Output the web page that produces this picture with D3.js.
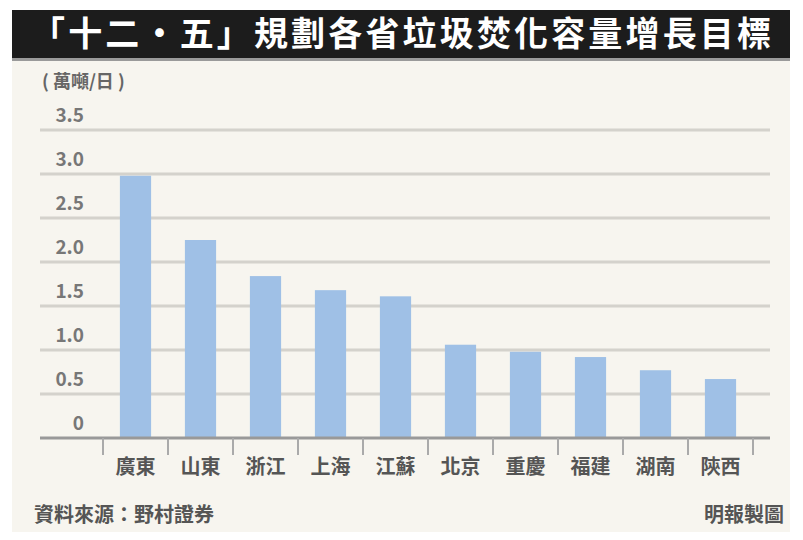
<!DOCTYPE html>
<html><head><meta charset="utf-8">
<script src="https://cdn.jsdelivr.net/npm/d3@7"></script>
<style>body{margin:0;background:#fff;}svg{display:block;font-family:"Noto Sans CJK TC","Noto Sans",sans-serif;}</style>
</head><body><div></div>
<script>
const width = 803, height = 540;
const provinces = ["廣東","山東","浙江","上海","江蘇","北京","重慶","福建","湖南","陝西"];
const values = [2.98, 2.25, 1.84, 1.68, 1.61, 1.06, 0.98, 0.92, 0.77, 0.67];
const yTicks = [0, 0.5, 1.0, 1.5, 2.0, 2.5, 3.0, 3.5];
const tickLabels = ["0","0.5","1.0","1.5","2.0","2.5","3.0","3.5"];

const svg = d3.select("div").append("svg").attr("width", width).attr("height", height);

svg.append("rect").attr("x", 12).attr("y", 58).attr("width", 778).attr("height", 474).attr("fill", "#f7f5ef");
svg.append("rect").attr("x", 12).attr("y", 10).attr("width", 778).attr("height", 50).attr("fill", "#1c1c1c");
svg.append("rect").attr("x", 12).attr("y", 58).attr("width", 778).attr("height", 3).attr("fill", "#9a9a9a");
svg.append("text").text("「十二・五」規劃各省垃圾焚化容量增長目標")
  .attr("x", 401).attr("y", 46).attr("text-anchor", "middle")
  .attr("fill", "#fff").attr("font-size", 34).attr("font-weight", "bold").attr("textLength", 740);

const x = d3.scaleBand().domain(provinces).range([103, 753]).paddingInner(0.52).paddingOuter(0.26);
const y = d3.scaleLinear().domain([0, 3.5]).range([438, 130]);

const grid = svg.append("g");
yTicks.slice(1).forEach((t) => {
  grid.append("line").attr("x1", 40).attr("x2", 770).attr("y1", y(t)).attr("y2", y(t))
    .attr("stroke", "#d4d2cc").attr("stroke-width", 3);
});
yTicks.forEach((t, i) => {
  svg.append("text").text(tickLabels[i]).attr("x", 84).attr("y", y(t) - 8)
    .attr("text-anchor", "end").attr("fill", "#777").attr("font-size", 19).attr("font-weight", "bold");
});
svg.append("text").text("( 萬噸/日 )").attr("x", 42).attr("y", 88).attr("fill", "#666")
  .attr("font-size", 18).attr("font-weight", "bold");

svg.selectAll(".bar").data(values).enter().append("rect").attr("class", "bar")
  .attr("x", (d, i) => x(provinces[i])).attr("width", x.bandwidth())
  .attr("y", (d) => y(d)).attr("height", (d) => y(0) - y(d)).attr("fill", "#9fc0e6");

svg.append("line").attr("x1", 40).attr("x2", 770).attr("y1", 438).attr("y2", 438)
  .attr("stroke", "#999").attr("stroke-width", 3);

const step = x.step();
provinces.forEach((p, i) => {
  const sx = x(p) - (step - x.bandwidth()) / 2;
  svg.append("line").attr("x1", sx).attr("x2", sx).attr("y1", 438).attr("y2", 455).attr("stroke", "#aaa").attr("stroke-width", 2);
  svg.append("text").text(p).attr("x", x(p) + x.bandwidth() / 2).attr("y", 474)
    .attr("text-anchor", "middle").attr("fill", "#555").attr("font-size", 20).attr("font-weight", "bold");
});
svg.append("line").attr("x1", 753).attr("x2", 753).attr("y1", 438).attr("y2", 455).attr("stroke", "#aaa").attr("stroke-width", 2);

svg.append("text").text("資料來源：野村證券").attr("x", 34).attr("y", 522).attr("fill", "#555").attr("font-size", 20).attr("font-weight", "bold");
svg.append("text").text("明報製圖").attr("x", 784).attr("y", 522).attr("text-anchor", "end").attr("fill", "#555").attr("font-size", 20).attr("font-weight", "bold");
</script></body></html>
